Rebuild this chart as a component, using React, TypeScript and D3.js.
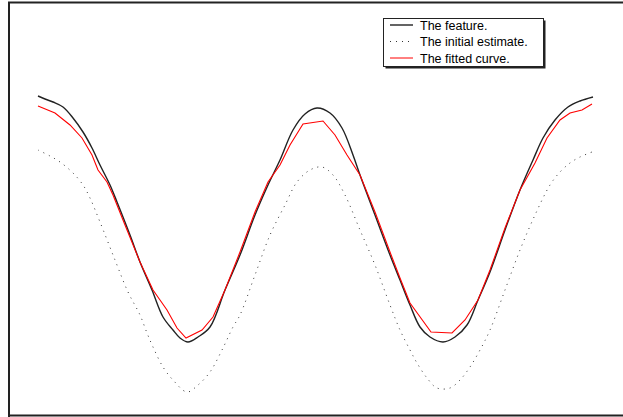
import React from "react";
import * as d3 from "d3";

const featureX = [0, .07, .15, .25, .35, .45, .54, .62, .72, .79, .92, 1.02, 1.14, 1.25, 1.35, 1.42, 1.50, 1.60, 1.72, 1.87, 2.02, 2.17, 2.30, 2.42, 2.55, 2.67, 2.79, 2.92, 3.04, 3.15, 3.22, 3.37, 3.52, 3.62, 3.72, 3.82, 3.92, 4.05, 4.17, 4.29, 4.40, 4.52, 4.67, 4.82, 4.95, 5.05, 5.17, 5.30, 5.42, 5.55];
const featureY = [3.04, 3.01, 2.98, 2.93, 2.82, 2.68, 2.52, 2.35, 2.15, 1.98, 1.65, 1.38, 1.10, 0.83, 0.70, 0.62, 0.58, 0.63, 0.73, 1.10, 1.45, 1.85, 2.15, 2.40, 2.70, 2.86, 2.92, 2.87, 2.72, 2.45, 2.25, 1.85, 1.45, 1.20, 0.95, 0.73, 0.63, 0.58, 0.63, 0.75, 1.00, 1.28, 1.70, 2.10, 2.40, 2.62, 2.80, 2.93, 2.99, 3.03];

const initialX = [0, .12, .22, .35, .45, .52, .62, .77, .90, 1.02, 1.09, 1.15, 1.25, 1.35, 1.49, 1.60, 1.72, 1.84, 1.95, 2.02, 2.17, 2.32, 2.47, 2.59, 2.72, 2.84, 2.95, 3.07, 3.22, 3.37, 3.52, 3.62, 3.72, 3.79, 3.89, 3.99, 4.12, 4.22, 4.32, 4.42, 4.52, 4.67, 4.82, 4.97, 5.12, 5.22, 5.32, 5.42, 5.54];
const initialY = [2.50, 2.44, 2.38, 2.27, 2.15, 2.02, 1.78, 1.40, 1.08, 0.85, 0.67, 0.53, 0.33, 0.20, 0.08, 0.15, 0.28, 0.50, 0.73, 0.85, 1.25, 1.65, 1.95, 2.18, 2.30, 2.33, 2.25, 2.05, 1.70, 1.35, 0.95, 0.70, 0.50, 0.37, 0.22, 0.12, 0.12, 0.20, 0.33, 0.50, 0.70, 1.10, 1.50, 1.85, 2.15, 2.28, 2.37, 2.43, 2.48];

const fittedX = [0, .17, .32, .44, .54, .60, .69, .75, .87, 1.02, 1.15, 1.29, 1.39, 1.48, 1.64, 1.75, 1.87, 2.02, 2.17, 2.30, 2.42, 2.52, 2.65, 2.85, 2.97, 3.09, 3.22, 3.37, 3.52, 3.62, 3.72, 3.93, 4.14, 4.27, 4.40, 4.52, 4.67, 4.82, 4.97, 5.09, 5.22, 5.32, 5.44, 5.54];
const fittedY = [2.94, 2.87, 2.75, 2.62, 2.45, 2.30, 2.18, 2.05, 1.75, 1.38, 1.10, 0.90, 0.72, 0.62, 0.70, 0.83, 1.10, 1.48, 1.88, 2.18, 2.35, 2.55, 2.76, 2.79, 2.65, 2.45, 2.25, 1.88, 1.48, 1.22, 0.97, 0.68, 0.67, 0.80, 1.00, 1.30, 1.72, 2.10, 2.37, 2.62, 2.80, 2.87, 2.90, 2.96];

const legendLabels = ["The feature.", "The initial estimate.", "The fitted curve."];

const W = 623, H = 417;

export default function App() {
  const x = d3.scaleLinear().domain([0, 5.56]).range([38, 594]);
  const y = d3.scaleLinear().domain([0, 4]).range([400, 0]);
  const smooth = d3.line<[number, number]>().x(d => x(d[0])).y(d => y(d[1])).curve(d3.curveCatmullRom.alpha(0.5));
  const straight = d3.line<[number, number]>().x(d => x(d[0])).y(d => y(d[1]));
  const zip = (a: number[], b: number[]) => a.map((v, i) => [v, b[i]] as [number, number]);

  const font = "'Liberation Sans', Arial, Helvetica, sans-serif";
  const lx = 383.5, ly = 18.5, lw = 160, lh = 48;
  const rows = [25, 41.5, 58];
  const styles = [
    { stroke: "#222", width: 1.4, dash: undefined as string | undefined },
    { stroke: "#333", width: 1, dash: "1 5" },
    { stroke: "#ff0000", width: 1, dash: undefined },
  ];

  return (
    <svg width={W} height={H} style={{ position: "fixed", left: 0, top: 0, background: "#fff" }}>
      <rect x={0} y={0} width={W} height={H} fill="#fff" />
      <path d={`M9,417 V2.5 H630`} fill="none" stroke="#222" strokeWidth={2} />
      <path d={`M9,415.5 H630`} fill="none" stroke="#222" strokeWidth={2} />
      <path d={smooth(zip(initialX, initialY)) || ""} fill="none" stroke="#333" strokeWidth={1} strokeDasharray="1 5" />
      <path d={smooth(zip(featureX, featureY)) || ""} fill="none" stroke="#222" strokeWidth={1.4} />
      <path d={straight(zip(fittedX, fittedY)) || ""} fill="none" stroke="#ff0000" strokeWidth={1.1} />
      <rect x={lx + 2} y={ly + 2} width={lw} height={lh} fill="#222" />
      <rect x={lx} y={ly} width={lw} height={lh} fill="#fff" stroke="#222" strokeWidth={1} />
      {legendLabels.map((lab, i) => (
        <g key={lab}>
          <line x1={390} x2={413} y1={rows[i]} y2={rows[i]} stroke={styles[i].stroke} strokeWidth={styles[i].width} strokeDasharray={styles[i].dash} />
          <text x={420} y={rows[i] + 4.5} fontFamily={font} fontSize={12.5} fill="#000">{lab}</text>
        </g>
      ))}
    </svg>
  );
}
